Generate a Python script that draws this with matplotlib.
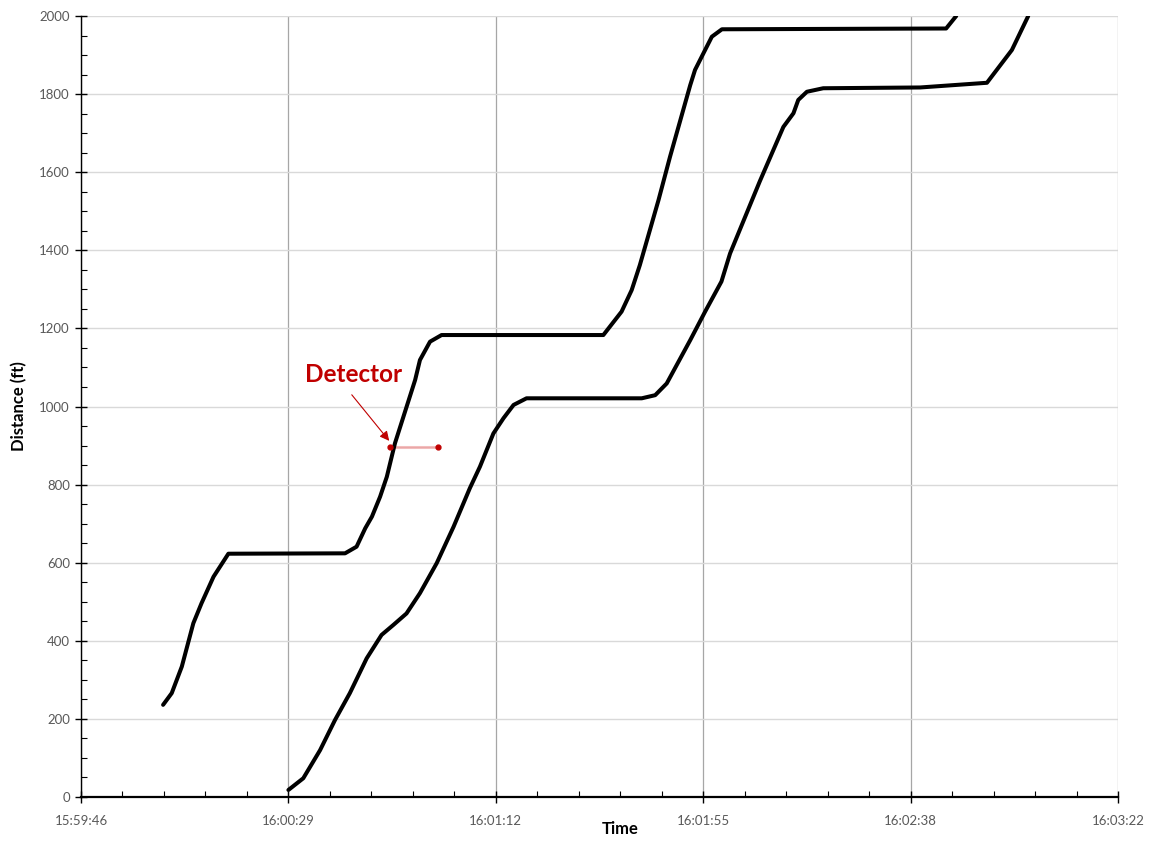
import matplotlib.pyplot as plt
from matplotlib.ticker import FixedLocator, MultipleLocator

plt.rcParams["font.family"] = ["Lato", "DejaVu Sans"]

# time in seconds after 15:59:46, distance in ft
lead_time = [17.1, 18.9, 21.0, 23.4, 25.1, 27.6, 30.7, 55.0, 57.4, 59.2, 60.6,
             62.3, 63.7, 65.4, 67.5, 69.6, 70.6, 72.7, 75.1, 108.8, 112.6,
             114.7, 116.4, 120.3, 122.7, 126.9, 127.9, 131.4, 133.5, 180.2, 182.3]
lead_dist = [236, 266, 334, 445, 496, 564, 623, 624, 641, 688, 718,
             769, 820, 906, 987, 1068, 1119, 1166, 1183, 1183, 1243,
             1298, 1362, 1529, 1640, 1823, 1862, 1947, 1966, 1968, 2000]

follow_time = [43.2, 46.3, 49.8, 52.9, 56.0, 59.5, 62.6, 65.1, 67.8, 70.6,
               74.1, 77.6, 81.0, 83.1, 85.9, 88.0, 90.1, 92.8, 116.8, 119.6,
               122.0, 126.9, 130.0, 133.4, 135.2, 141.4, 146.3, 148.4, 149.4,
               151.2, 154.6, 174.8, 188.7, 193.9, 197.3]
follow_dist = [18, 48, 120, 197, 266, 355, 415, 441, 470, 522,
               599, 692, 791, 846, 931, 970, 1004, 1021, 1021, 1029,
               1059, 1170, 1243, 1320, 1392, 1577, 1716, 1751, 1785,
               1806, 1815, 1817, 1829, 1913, 2000]

detector_time = [64.4, 74.4]
detector_dist = [896, 896]

tick_secs = [0, 43.2, 86.4, 129.6, 172.8, 216.0]
tick_labels = ["15:59:46", "16:00:29", "16:01:12", "16:01:55", "16:02:38", "16:03:22"]

fig = plt.figure(figsize=(11.53, 8.42), dpi=100)
ax = fig.add_axes([81 / 1153, 45 / 842, 1037 / 1153, 781 / 842])

ax.plot(lead_time, lead_dist, color="black", lw=2.9, solid_capstyle="round",
        solid_joinstyle="round", zorder=3)
ax.plot(follow_time, follow_dist, color="black", lw=2.9, solid_capstyle="round",
        solid_joinstyle="round", zorder=3)

# detector
ax.plot(detector_time, detector_dist, color="#F2BDBD", lw=2.2, zorder=2)
ax.plot(detector_time, detector_dist, color="#E8A3A3", lw=0.6, zorder=2)
ax.plot(detector_time, detector_dist, ls="none", marker="o", ms=3.5,
        color="#C00000", zorder=4)
ax.annotate("", xy=(64.2, 912), xytext=(56.4, 1030),
            arrowprops=dict(arrowstyle="-|>", color="#C00000", lw=0.8,
                            mutation_scale=14, shrinkA=0, shrinkB=0))
ax.text(56.7, 1081, "Detector", color="#C00000", fontsize=17.5, fontweight="bold",
        ha="center", va="center")

ax.set_xlim(0, 216)
ax.set_ylim(0, 2000)
ax.xaxis.set_major_locator(FixedLocator(tick_secs))
ax.set_xticklabels(tick_labels)
ax.xaxis.set_minor_locator(MultipleLocator(8.64))
ax.yaxis.set_major_locator(MultipleLocator(200))
ax.yaxis.set_minor_locator(MultipleLocator(50))

ax.grid(axis="y", which="major", color="#D9D9D9", lw=1.0)
ax.grid(axis="x", which="major", color="#A6A6A6", lw=0.9)
ax.set_axisbelow(True)

for side in ["top", "right"]:
    ax.spines[side].set_visible(False)
ax.spines["left"].set_linewidth(1.0)
ax.spines["bottom"].set_linewidth(1.6)

ax.tick_params(axis="both", which="major", direction="inout", length=8, width=1,
               labelsize=9.5, labelcolor="#595959", pad=4)
ax.tick_params(axis="both", which="minor", direction="in", length=4, width=0.8)
ax.tick_params(axis="x", which="major", pad=9)

ax.set_xlabel("Time", fontsize=12, fontweight="bold")
ax.xaxis.set_label_coords(0.52, -0.031)
ax.set_ylabel("Distance (ft)", fontsize=12, fontweight="bold")
ax.yaxis.set_label_coords(-0.052, 0.5)

fig.savefig("out.png", dpi=100)
